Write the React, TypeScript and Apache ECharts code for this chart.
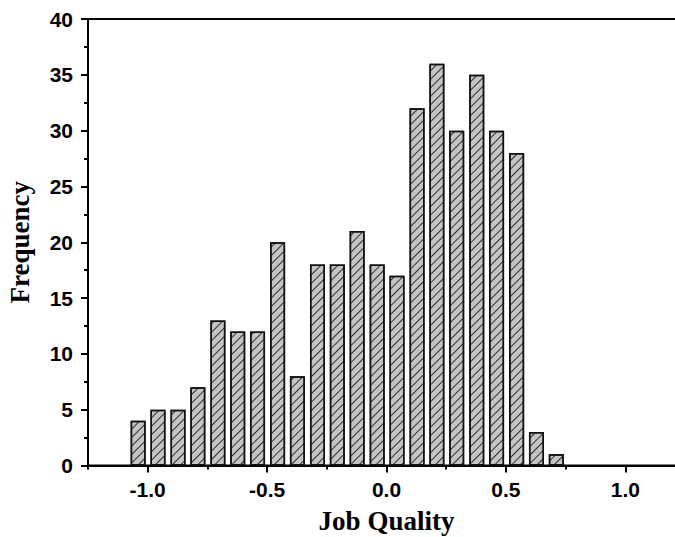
import React, { useEffect, useRef } from "react";
import * as echarts from "echarts";

const binCenters = [
  -1.04, -0.957, -0.873, -0.79, -0.706, -0.623, -0.54, -0.456, -0.373, -0.289, -0.206,
  -0.123, -0.039, 0.044, 0.128, 0.211, 0.294, 0.378, 0.461, 0.545, 0.628, 0.711,
];
const frequencies = [4, 5, 5, 7, 13, 12, 12, 20, 8, 18, 18, 21, 18, 17, 32, 36, 30, 35, 30, 28, 3, 1];
const xMajorTicks = [-1.0, -0.5, 0.0, 0.5, 1.0];
const xMinorTicks = [-1.25, -0.75, -0.25, 0.25, 0.75, 1.25];

export default function App() {
  const ref = useRef<HTMLDivElement>(null);
  useEffect(() => {
    if (!ref.current) return;
    const chart = echarts.init(ref.current, null, { renderer: "svg" });
    const labelFont = { fontFamily: "Liberation Sans", fontWeight: "bold" as const, fontSize: 21, color: "#000" };
    const nameFont = { fontFamily: "Liberation Serif", fontWeight: "bold" as const, fontSize: 27, color: "#000" };
    chart.setOption({
      animation: false,
      backgroundColor: "#fff",
      grid: {
        left: 88,
        right: 1,
        top: 19,
        bottom: 71.5,
        containLabel: false,
        outerBoundsMode: "none",
        show: true,
        borderColor: "#000",
        borderWidth: 2,
        backgroundColor: "transparent",
      },
      xAxis: [
        {
          type: "value",
          min: -1.25,
          max: 1.25,
          position: "bottom",
          name: "Job Quality",
          nameLocation: "middle",
          nameGap: 42,
          nameTextStyle: nameFont,
          axisLine: { show: true, onZero: false, lineStyle: { color: "#000", width: 2 } },
          axisTick: { show: true, customValues: xMajorTicks, length: 7, lineStyle: { color: "#000", width: 2 } },
          axisLabel: {
            show: true,
            customValues: xMajorTicks,
            margin: 13,
            formatter: (v: number) => v.toFixed(1),
            ...labelFont,
          },
          splitLine: { show: false },
        },
        {
          type: "value",
          min: -1.25,
          max: 1.25,
          position: "bottom",
          axisLine: { show: false, onZero: false },
          axisTick: { show: true, customValues: xMinorTicks, length: 4, lineStyle: { color: "#000", width: 2 } },
          axisLabel: { show: false },
          splitLine: { show: false },
        },
      ],
      yAxis: {
        type: "value",
        min: 0,
        max: 40,
        interval: 5,
        name: "Frequency",
        nameLocation: "middle",
        nameGap: 55,
        nameTextStyle: nameFont,
        axisLine: { show: true, onZero: false, lineStyle: { color: "#000", width: 2 } },
        axisTick: { show: true, length: 7, lineStyle: { color: "#000", width: 2 } },
        minorTick: { show: true, splitNumber: 2, length: 4, lineStyle: { color: "#000", width: 2 } },
        axisLabel: { margin: 15, ...labelFont },
        splitLine: { show: false },
      },
      series: [
        {
          type: "bar",
          xAxisIndex: 0,
          barWidth: 15,
          data: binCenters.map((x, i) => [x, frequencies[i]]),
          itemStyle: {
            color: "#c4c4c4",
            borderColor: "#111",
            borderWidth: 1.5,
            decal: {
              symbol: "rect",
              symbolSize: 1,
              color: "rgba(20,20,20,0.85)",
              dashArrayX: [1, 0],
              dashArrayY: [1, 5],
              rotation: -Math.PI / 4,
            },
          },
        },
      ],
    });
    return () => chart.dispose();
  }, []);
  return (
    <div style={{ position: "absolute", left: 0, top: 0, width: 675, height: 537, overflow: "hidden" }}>
      <div ref={ref} style={{ position: "absolute", left: 0, top: 0, width: 686, height: 537 }} />
    </div>
  );
}
